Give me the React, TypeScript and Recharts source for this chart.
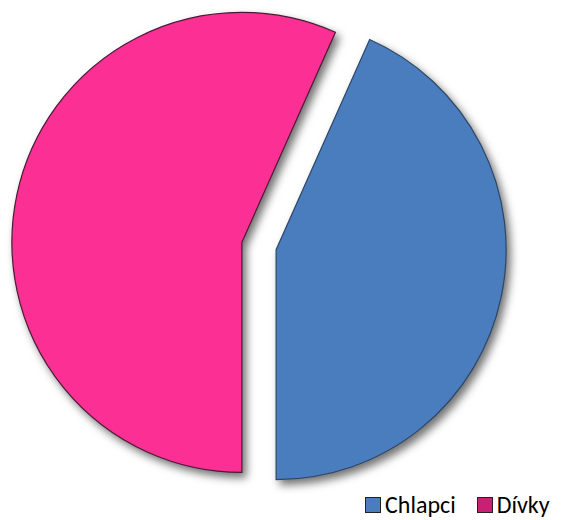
import React from 'react';
import { PieChart, Pie, Cell } from 'recharts';

const categories = ['Chlapci', 'Dívky'];
const values = [13, 17];
const colors = ['#4a7dbd', '#fc2f95'];
const strokes = ['#2d4668', '#4a1a33'];
const legendColors = ['#4a7dbd', '#c91f74'];

const data = categories.map((name, i) => ({ name, value: values[i] }));

const W = 563;
const H = 520;
const CX = 259;
const CY = 246;
const R = 230;
const START = 66;

function explodeOffset(index: number, dist: number) {
  const total = values.reduce((a, b) => a + b, 0);
  let acc = 0;
  for (let i = 0; i < index; i++) acc += values[i];
  const mid = START - ((acc + values[index] / 2) / total) * 360;
  const rad = (mid * Math.PI) / 180;
  return { dx: Math.cos(rad) * dist, dy: -Math.sin(rad) * dist };
}

const Legend2 = () => (
  <div
    style={{
      position: 'absolute',
      left: 365,
      top: 495,
      display: 'flex',
      alignItems: 'center',
      fontFamily: 'Carlito, "Open Sans", "Liberation Sans", sans-serif',
      fontSize: 24,
      color: '#000',
      lineHeight: '20px',
      whiteSpace: 'nowrap',
    }}
  >
    {categories.map((c, i) => (
      <div key={c} style={{ display: 'flex', alignItems: 'center', marginRight: i === 0 ? 21 : 0 }}>
        <span
          style={{
            display: 'inline-block',
            width: 14,
            height: 14,
            background: legendColors[i],
            border: '1px solid #222',
            marginRight: 4,
          }}
        />
        <span>{c}</span>
      </div>
    ))}
  </div>
);

export default function App() {
  return (
    <div style={{ position: 'absolute', left: 0, top: 0, width: W, height: H, background: '#fff' }}>
      <div style={{ filter: 'drop-shadow(4px 5px 4px rgba(0,0,0,0.55))' }}>
        <PieChart width={W} height={H} margin={{ top: 0, right: 0, bottom: 0, left: 0 }}>
          {data.map((d, i) => {
            const { dx, dy } = explodeOffset(i, 17.5);
            return (
              <Pie
                key={d.name}
                data={data}
                dataKey="value"
                nameKey="name"
                cx={CX + dx}
                cy={CY + dy}
                outerRadius={R}
                startAngle={START}
                endAngle={START - 360}
                isAnimationActive={false}
                labelLine={false}
              >
                {data.map((e, j) => (
                  <Cell
                    key={e.name}
                    fill={j === i ? colors[j] : 'none'}
                    stroke={j === i ? strokes[j] : 'none'}
                    strokeWidth={1.2}
                  />
                ))}
              </Pie>
            );
          })}
        </PieChart>
      </div>
      <Legend2 />
    </div>
  );
}
